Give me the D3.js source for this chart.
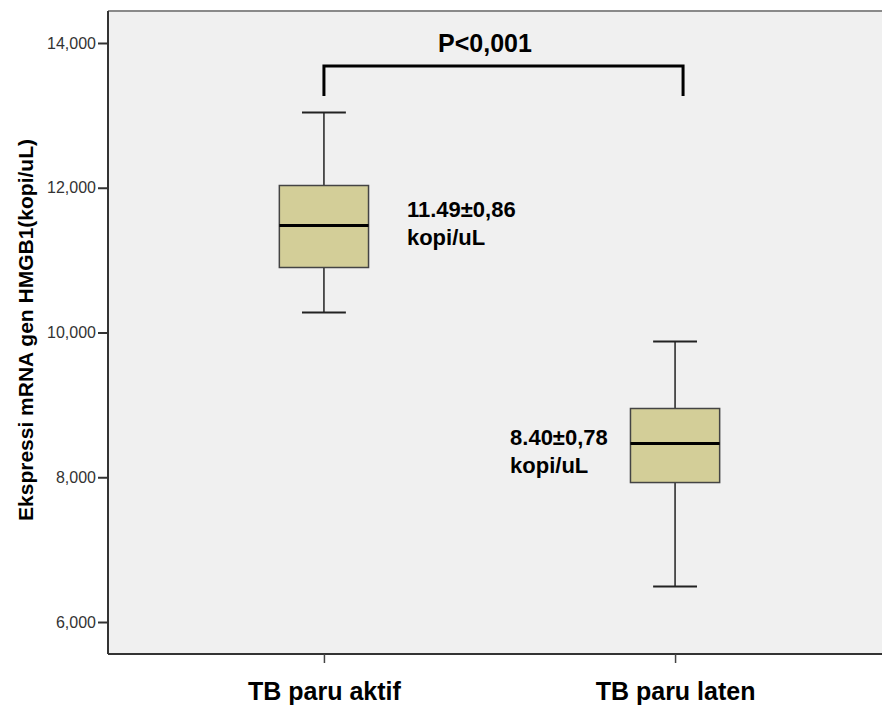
<!DOCTYPE html>
<html><head><meta charset="utf-8">
<script src="https://cdn.jsdelivr.net/npm/d3@7"></script>
<style>html,body{margin:0;padding:0;background:#fff;} svg{display:block;font-family:"Liberation Sans",Arial,sans-serif;}</style>
</head><body><svg id="c" width="882" height="706"></svg>
<script>
const categories = ["TB paru aktif", "TB paru laten"];
const minVals    = [10276, 6491];
const q1Vals     = [10898, 7927];
const medianVals = [11478, 8466];
const q3Vals     = [12031, 8950];
const maxVals    = [13040, 9876];
const annotLine1 = ["11.49\u00b10,86", "8.40\u00b10,78"];
const annotLine2 = ["kopi/uL", "kopi/uL"];
const yTicks = [6000, 8000, 10000, 12000, 14000];
const pLabel = "P<0,001";
const yTitle = "Ekspressi mRNA gen HMGB1(kopi/uL)";

const svg = d3.select("#c");
const L = 108, R = 891, T = 11, B = 654;
const y = d3.scaleLinear().domain([5558, 14442]).range([B, T]);
const x = d3.scalePoint().domain(categories).range([L, R]).padding(0.615);
const step = x.step();
const boxW = step * 0.254, capW = step * 0.125;

svg.append("rect").attr("x", L).attr("y", T).attr("width", 882 - L).attr("height", B - T).attr("fill", "#f0f0f0");
svg.append("line").attr("x1", L).attr("x2", 882).attr("y1", T).attr("y2", T).attr("stroke", "#8a8a8a").attr("stroke-width", 2);

// Y axis
const yAxis = d3.axisLeft(y).tickValues(yTicks).tickFormat(d3.format(",")).tickSize(10).tickPadding(2);
const gy = svg.append("g").attr("transform", `translate(${L},0)`).call(yAxis);
gy.select(".domain").attr("stroke", "#333").attr("stroke-width", 2).attr("d", `M0,${T}V${B}`);
gy.selectAll(".tick line").attr("stroke", "#333").attr("stroke-width", 2);
gy.selectAll(".tick text").attr("font-size", 16).attr("fill", "#333").attr("font-family", "Liberation Sans, Arial, sans-serif");

// X axis
const xAxis = d3.axisBottom(x).tickSize(9).tickPadding(19);
const gx = svg.append("g").attr("transform", `translate(0,${B})`).call(xAxis);
gx.select(".domain").attr("stroke", "#333").attr("stroke-width", 2).attr("d", `M${L},0H882`);
gx.selectAll(".tick line").attr("stroke", "#444").attr("stroke-width", 1.5);
gx.selectAll(".tick text").attr("font-size", 25).attr("font-weight", "bold").attr("fill", "#000").attr("font-family", "Liberation Sans, Arial, sans-serif")
  .attr("dy", null).attr("y", 46);

// Y title
svg.append("text").attr("transform", `translate(33,330) rotate(-90)`).attr("text-anchor", "middle")
  .attr("font-size", 21).attr("font-weight", "bold").text(yTitle);

// Boxes
categories.forEach((c, i) => {
  const cx = x(c);
  const g = svg.append("g");
  g.append("line").attr("x1", cx).attr("x2", cx).attr("y1", y(maxVals[i])).attr("y2", y(q3Vals[i])).attr("stroke", "#222").attr("stroke-width", 1.5);
  g.append("line").attr("x1", cx).attr("x2", cx).attr("y1", y(q1Vals[i])).attr("y2", y(minVals[i])).attr("stroke", "#222").attr("stroke-width", 1.5);
  [maxVals[i], minVals[i]].forEach(v => g.append("line").attr("x1", cx - capW / 2).attr("x2", cx + capW / 2).attr("y1", y(v)).attr("y2", y(v)).attr("stroke", "#222").attr("stroke-width", 2));
  g.append("rect").attr("x", cx - boxW / 2).attr("y", y(q3Vals[i])).attr("width", boxW).attr("height", y(q1Vals[i]) - y(q3Vals[i]))
    .attr("fill", "#d3ce98").attr("stroke", "#444").attr("stroke-width", 1.5);
  g.append("line").attr("x1", cx - boxW / 2).attr("x2", cx + boxW / 2).attr("y1", y(medianVals[i])).attr("y2", y(medianVals[i])).attr("stroke", "#000").attr("stroke-width", 3);
});

// Annotations
const a1x = x(categories[0]) + 83, a2x = x(categories[1]) - 165;
[[a1x, y(medianVals[0]) - 9], [a2x, y(medianVals[1]) + 1]].forEach((p, i) => {
  const t = svg.append("text").attr("x", p[0]).attr("y", p[1]).attr("font-size", 22).attr("font-weight", "bold");
  t.append("tspan").attr("x", p[0]).text(annotLine1[i]);
  t.append("tspan").attr("x", p[0]).attr("dy", 28).text(annotLine2[i]);
});

// Bracket
const bx1 = x(categories[0]), bx2 = x(categories[1]) + 8;
svg.append("path").attr("d", `M${bx1},96V66H${bx2}V96`).attr("fill", "none").attr("stroke", "#000").attr("stroke-width", 3);
svg.append("text").attr("x", 485).attr("y", 52).attr("text-anchor", "middle").attr("font-size", 25).attr("font-weight", "bold").text(pLabel);
</script></body></html>
